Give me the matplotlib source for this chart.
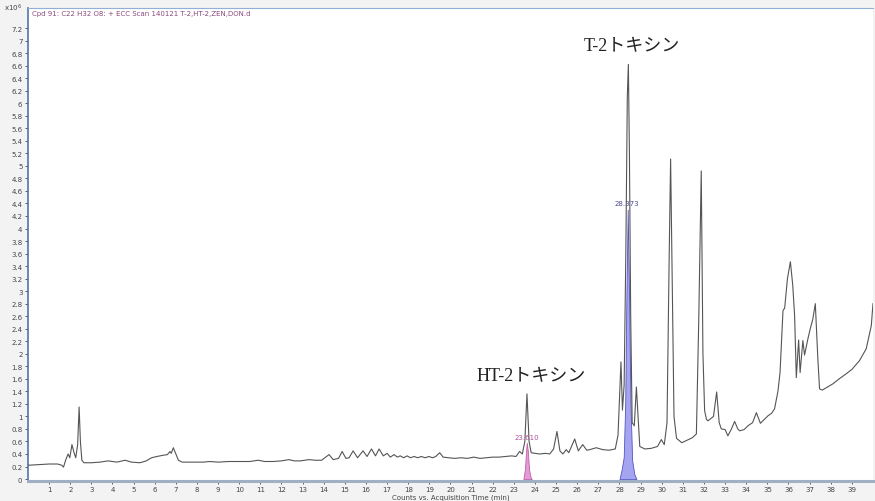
import numpy as np
import matplotlib.pyplot as plt

# total ion trace, counts in units of 1e6
time = [0.0, 0.5, 1.0, 1.4, 1.6, 1.68, 1.78, 1.9, 1.98, 2.08, 2.18, 2.26, 2.35, 2.42, 2.48,
        2.55, 2.65, 3.0, 3.4, 3.8, 4.2, 4.6, 4.9, 5.3, 5.6, 5.85, 6.1, 6.4, 6.6, 6.72, 6.78,
        6.88, 7.0, 7.12, 7.3, 7.8, 8.3, 8.6, 9.0, 9.5, 10.0, 10.5, 10.9, 11.2, 11.6, 12.0,
        12.35, 12.6, 12.9, 13.3, 13.6, 13.9, 14.25, 14.45, 14.7, 14.87, 15.05, 15.2, 15.39,
        15.6, 15.86, 16.05, 16.26, 16.45, 16.62, 16.82, 17.0, 17.15, 17.33, 17.48, 17.62,
        17.78, 17.95, 18.1, 18.28, 18.45, 18.62, 18.8, 18.98, 19.15, 19.3, 19.49, 19.65,
        19.9, 20.2, 20.5, 20.8, 21.1, 21.4, 21.7, 22.0, 22.3, 22.6, 22.9, 23.1, 23.27, 23.4,
        23.52, 23.62, 23.72, 23.82, 24.0, 24.2, 24.5, 24.7, 24.88, 25.04, 25.18, 25.32,
        25.48, 25.6, 25.88, 26.05, 26.26, 26.45, 26.6, 26.9, 27.2, 27.5, 27.8, 27.93, 28.0,
        28.07, 28.14, 28.22, 28.3, 28.37, 28.42, 28.47, 28.53, 28.6, 28.7, 28.8, 28.88,
        28.96, 29.2, 29.5, 29.8, 29.98, 30.12, 30.25, 30.35, 30.42, 30.5, 30.58, 30.7, 30.95,
        31.2, 31.45, 31.64, 31.75, 31.87, 31.95, 32.03, 32.12, 32.19, 32.45, 32.6, 32.72,
        32.82, 33.0, 33.13, 33.3, 33.45, 33.6, 33.69, 33.9, 34.08, 34.3, 34.48, 34.67, 34.85,
        35.03, 35.2, 35.34, 35.5, 35.6, 35.74, 35.82, 35.95, 36.09, 36.2, 36.29, 36.37,
        36.48, 36.55, 36.68, 36.76, 36.92, 37.03, 37.15, 37.27, 37.39, 37.47, 37.6, 37.8,
        38.1, 38.4, 38.73, 39.0, 39.36, 39.68, 39.92, 40.0]
counts = [0.22, 0.23, 0.24, 0.24, 0.22, 0.19, 0.30, 0.40, 0.34, 0.55, 0.42, 0.34, 0.55, 1.15, 0.60,
          0.30, 0.26, 0.26, 0.27, 0.29, 0.27, 0.30, 0.27, 0.26, 0.29, 0.34, 0.36, 0.38, 0.39, 0.44, 0.41,
          0.50, 0.40, 0.30, 0.27, 0.27, 0.27, 0.28, 0.27, 0.28, 0.28, 0.28, 0.30, 0.28, 0.28, 0.29,
          0.31, 0.29, 0.29, 0.31, 0.30, 0.30, 0.39, 0.31, 0.33, 0.44, 0.33, 0.34, 0.45,
          0.34, 0.45, 0.36, 0.48, 0.37, 0.48, 0.37, 0.41, 0.35, 0.39, 0.35, 0.37,
          0.34, 0.37, 0.34, 0.36, 0.34, 0.36, 0.34, 0.36, 0.34, 0.36, 0.42, 0.35,
          0.34, 0.33, 0.34, 0.33, 0.35, 0.33, 0.34, 0.35, 0.35, 0.36, 0.37, 0.36, 0.44, 0.40,
          0.60, 1.36, 0.60, 0.42, 0.41, 0.40, 0.41, 0.40, 0.48, 0.76, 0.45, 0.40,
          0.47, 0.42, 0.64, 0.45, 0.55, 0.46, 0.47, 0.50, 0.47, 0.46, 0.48, 0.70, 1.30,
          1.87, 1.10, 1.50, 3.60, 6.10, 6.62, 5.20, 2.60, 0.90, 0.85, 1.47, 1.00,
          0.52, 0.48, 0.49, 0.52, 0.63, 0.55, 0.90, 3.50, 5.11, 3.00, 1.00, 0.65, 0.58,
          0.62, 0.66, 0.72, 2.50, 4.92, 2.00, 1.09, 0.95, 0.93, 1.00, 1.39, 0.90,
          0.80, 0.79, 0.69, 0.80, 0.92, 0.80, 0.77, 0.79, 0.85, 0.90, 1.06, 0.89, 0.95,
          1.01, 1.05, 1.12, 1.40, 1.70, 2.69, 2.73, 3.20, 3.47, 3.10, 2.61, 1.62,
          2.22, 1.70, 2.21, 1.98, 2.24, 2.40, 2.55, 2.80, 1.92, 1.44, 1.42, 1.46,
          1.52, 1.60, 1.68, 1.75, 1.89, 2.08, 2.45, 2.80]

# integrated peaks
ht2_time = [23.45, 23.52, 23.58, 23.61, 23.66, 23.72, 23.80, 23.85]
ht2_counts = [0.0, 0.15, 0.45, 0.58, 0.45, 0.15, 0.02, 0.0]
t2_time = [28.0, 28.1, 28.2, 28.27, 28.33, 28.39, 28.45, 28.52, 28.6, 28.7, 28.8]
t2_counts = [0.0, 0.15, 0.35, 1.2, 3.0, 4.3, 3.0, 1.2, 0.3, 0.08, 0.0]

xticks = list(range(1, 40))
yticks = [round(0.2 * i, 1) for i in range(37)]

title = 'Cpd 91: C22 H32 O8: + ECC Scan 140121 T-2,HT-2,ZEN,DON.d'
jp_font = ['Liberation Serif', 'Noto Sans CJK JP']

fig = plt.figure(figsize=(8.75, 5.02), dpi=100, facecolor='#f3f3f3')
ax = fig.add_axes([0.032, 0.040, 0.9657, 0.942])
ax.set_facecolor('white')

ax.fill_between(ht2_time, ht2_counts, color='#e39ad6', edgecolor='#c060a8', linewidth=0.6, zorder=2)
ax.fill_between(t2_time, t2_counts, color='#a4a4f0', edgecolor='#5555c0', linewidth=0.6, zorder=2)
ax.plot(time, counts, color='#555555', linewidth=0.8, zorder=3)

ax.text(23.61, 0.62, '23.610', color='#b0509a', fontsize=5, ha='center', va='bottom', zorder=4)
ax.text(28.37, 4.36, '28.373', color='#4a4a90', fontsize=5, ha='center', va='bottom', zorder=4)

ax.text(28.58, 6.92, 'T-2トキシン', family=jp_font, fontsize=13, ha='center', va='center', color='#222222')
ax.text(23.84, 1.65, 'HT-2トキシン', family=jp_font, fontsize=13, ha='center', va='center', color='#222222')

ax.text(0.005, 0.995, title, transform=ax.transAxes, color='#8a4a7e', fontsize=5, ha='left', va='top')
fig.text(0.004, 0.984, r'x10$^6$', fontsize=5, color='#444444', ha='left', va='center')

ax.set_xlim(0, 40)
ax.set_ylim(-0.03, 7.52)
ax.set_xticks(xticks)
ax.set_xticklabels([str(t) for t in xticks])
ax.set_yticks(yticks)
ax.set_yticklabels(['%g' % v for v in yticks])
ax.tick_params(axis='both', labelsize=5, colors='#444444', length=2.5, width=0.6, pad=1.5)
ax.set_xlabel('Counts vs. Acquisition Time (min)', fontsize=5, color='#444444', labelpad=1)

ax.spines['right'].set_visible(False)
ax.spines['top'].set_color('#8fb0d8')
ax.spines['top'].set_linewidth(0.8)
ax.spines['left'].set_color('#4f78a8')
ax.spines['left'].set_linewidth(1.2)
ax.spines['bottom'].set_color('#9fb0c4')
ax.spines['bottom'].set_linewidth(2.2)

fig.savefig('out.png', dpi=100, facecolor=fig.get_facecolor())
